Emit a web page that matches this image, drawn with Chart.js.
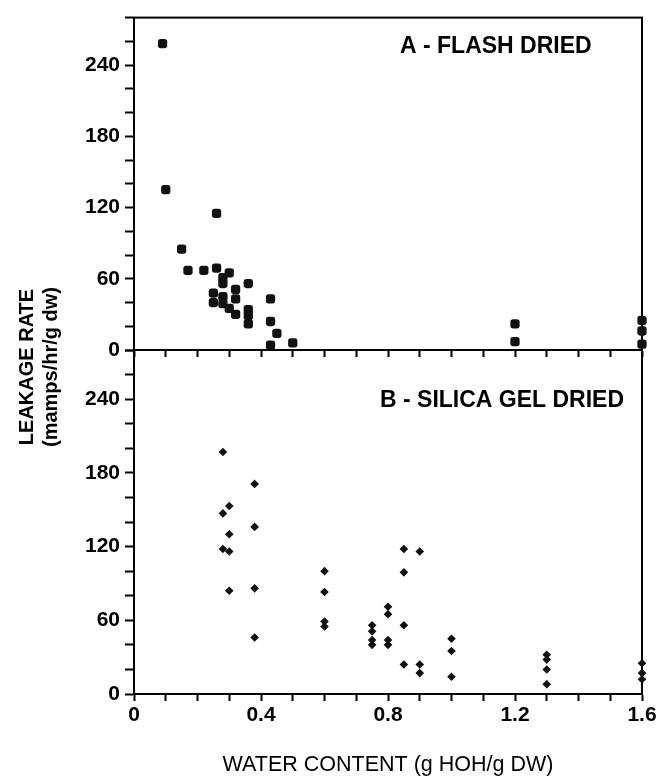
<!DOCTYPE html>
<html><head><meta charset="utf-8">
<script src="https://cdn.jsdelivr.net/npm/chart.js@4/dist/chart.umd.min.js"></script>
<style>
html,body{margin:0;padding:0;background:#fff;}
#wrap{position:relative;width:668px;height:784px;background:#fff;}
canvas{position:absolute;left:0;top:0;}
</style></head><body>
<div id="wrap"><canvas id="cA" width="668" height="784"></canvas><canvas id="cB" width="668" height="784"></canvas></div>
<script>
// ---- data ----
const flashX = [0.09,0.10,0.26,0.15,0.17,0.22,0.26,0.30,0.28,0.28,0.32,0.36,0.25,0.25,0.28,0.28,0.30,0.32,0.32,0.36,0.36,0.36,0.43,0.43,0.45,0.43,0.50,1.2,1.2,1.6,1.6,1.6];
const flashY = [258,135,115,85,67,67,69,65,61,56,51,56,48,40,45,39,35,43,30,34,29,22,43,24,14,4,6,22,7,25,16,5];
const silicaX = [0.28,0.28,0.30,0.30,0.28,0.30,0.30,0.38,0.38,0.38,0.38,0.6,0.6,0.6,0.6,0.75,0.75,0.75,0.75,0.8,0.8,0.8,0.8,0.85,0.85,0.85,0.85,0.9,0.9,0.9,1.0,1.0,1.0,1.3,1.3,1.3,1.3,1.6,1.6,1.6];
const silicaY = [197,147,153,130,118,116,84,171,136,86,46,100,83,59,55,56,51,44,40,71,65,44,40,118,99,56,24,116,24,17,45,35,14,32,28,20,8,25,17,12];
const xTickLabels = ['0','0.4','0.8','1.2','1.6'];
const yTickLabels = ['0','60','120','180','240'];
const panelTitles = ['A - FLASH DRIED','B - SILICA GEL DRIED'];
const yTitleLines = ['LEAKAGE RATE','(mamps/hr/g dw)'];
const xTitle = 'WATER CONTENT (g HOH/g DW)';

const FONT = '"Liberation Sans", Arial, Helvetica, sans-serif';
Chart.defaults.font.family = FONT;
Chart.defaults.color = '#000';

const toPts = (xs, ys) => xs.map((x, i) => ({x: x, y: ys[i]}));

const boxPlugin = {
  id: 'box',
  beforeDatasetsDraw(chart, args, opts) {
    const {ctx, chartArea: a} = chart;
    ctx.save();
    ctx.strokeStyle = '#000';
    ctx.lineWidth = 2;
    ctx.strokeRect(a.left, a.top, a.right - a.left, a.bottom - a.top);
    ctx.font = 'bold 23px ' + FONT;
    ctx.fillStyle = '#000';
    ctx.textAlign = 'left';
    ctx.textBaseline = 'middle';
    ctx.fillText(opts.text, opts.x, opts.y);
    ctx.restore();
  }
};

const yTitlePlugin = {
  id: 'ytitle',
  afterDraw(chart, args, opts) {
    if (!opts.show) return;
    const ctx = chart.ctx;
    [[33, yTitleLines[0]], [57, yTitleLines[1]]].forEach(([x, t]) => {
      ctx.save();
      ctx.font = 'bold 20px ' + FONT;
      ctx.fillStyle = '#000';
      ctx.textAlign = 'center';
      ctx.textBaseline = 'alphabetic';
      ctx.translate(x, 367);
      ctx.rotate(-Math.PI / 2);
      ctx.fillText(t, 0, 0);
      ctx.restore();
    });
  }
};

function yScale() {
  return {
    type: 'linear', min: 0, max: 280,
    ticks: {
      stepSize: 20, autoSkip: false, padding: 5,
      font: {size: 21, weight: 'bold'}, color: '#000',
      callback: v => (v % 60 === 0 ? yTickLabels[v / 60] : '')
    },
    grid: {display: true, drawOnChartArea: false, drawTicks: true, tickLength: 9, tickWidth: 2, tickColor: '#000'},
    border: {display: true, color: '#000', width: 2},
    afterFit(s) { s.width = 134; }
  };
}

function xScale(showLabels, h) {
  return {
    type: 'linear', min: 0, max: 1.6,
    ticks: {
      stepSize: 0.1, autoSkip: false, display: showLabels, padding: 2, maxRotation: 0,
      font: {size: 21, weight: 'bold'}, color: '#000',
      callback: v => { const k = Math.round(v * 10); return k % 4 === 0 ? xTickLabels[k / 4] : ''; }
    },
    grid: {display: true, drawOnChartArea: false, drawTicks: true, tickLength: 7, tickWidth: 2, tickColor: '#000'},
    border: {display: true, color: '#000', width: 2},
    title: showLabels ? {display: true, text: xTitle, font: {size: 21.5, weight: 'normal'}, color: '#000', padding: {top: 0, bottom: 6}} : {display: false},
    afterFit(s) { s.height = h; }
  };
}

function makeChart(id, pts, style, radius, padding, xLabels, xH, title, showYTitle) {
  return new Chart(document.getElementById(id), {
    type: 'scatter',
    data: {datasets: [{
      data: pts, pointStyle: style, radius: radius, hoverRadius: radius,
      backgroundColor: '#111', borderColor: '#111', borderWidth: 0, clip: false
    }]},
    options: {
      responsive: false, animation: false, devicePixelRatio: 1,
      layout: {padding: padding},
      plugins: {legend: {display: false}, tooltip: {enabled: false}, box: title, ytitle: {show: showYTitle}},
      scales: {x: xScale(xLabels, xH), y: yScale()}
    },
    plugins: [boxPlugin, yTitlePlugin]
  });
}

makeChart('cA', toPts(flashX, flashY), 'rectRounded', 5.4,
  {top: 8, right: 26, bottom: 424, left: 0}, false, 10,
  {text: panelTitles[0], x: 400, y: 47}, false);

makeChart('cB', toPts(silicaX, silicaY), 'rectRot', 4.3,
  {top: 350, right: 26, bottom: 0, left: 0}, true, 90,
  {text: panelTitles[1], x: 380, y: 401}, true);
</script>
</body></html>
